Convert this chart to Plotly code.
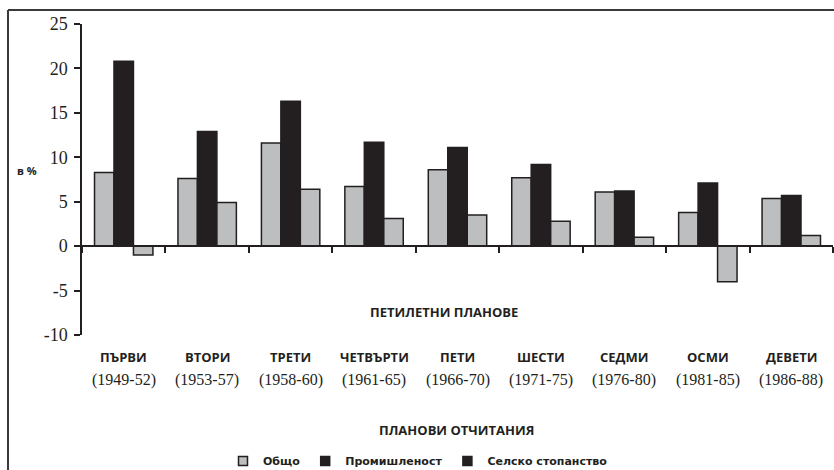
import plotly.graph_objects as go

# ---- data ----
plans = ["ПЪРВИ", "ВТОРИ", "ТРЕТИ", "ЧЕТВЪРТИ", "ПЕТИ", "ШЕСТИ", "СЕДМИ", "ОСМИ", "ДЕВЕТИ"]
periods = ["(1949-52)", "(1953-57)", "(1958-60)", "(1961-65)", "(1966-70)",
           "(1971-75)", "(1976-80)", "(1981-85)", "(1986-88)"]
total = [8.3, 7.6, 11.6, 6.7, 8.6, 7.7, 6.1, 3.8, 5.35]
industry = [20.8, 12.9, 16.3, 11.7, 11.1, 9.2, 6.2, 7.1, 5.7]
agriculture = [-1.0, 4.9, 6.4, 3.1, 3.5, 2.8, 1.0, -4.0, 1.2]
series_names = ["Общо", "Промишленост", "Селско стопанство"]
y_ticks = [-10, -5, 0, 5, 10, 15, 20, 25]
y_title = "в %"
x_title_top = "ПЕТИЛЕТНИ ПЛАНОВЕ"
x_title_bottom = "ПЛАНОВИ ОТЧИТАНИЯ"

GRAY = "#BCBEC0"
BLACK = "#231F20"
SANS_B = "Open Sans"
SERIF = "Liberation Serif"

W, H = 834, 470
L, R, T, B = 82, 1, 24, 135
PW, PH = W - L - R, H - T - B


def px_x(x):
    return (x - L) / PW


def px_y(y):
    return (H - B - y) / PH


fig = go.Figure()
colors = [GRAY, BLACK, GRAY]
for name, vals, col in zip(series_names, [total, industry, agriculture], colors):
    fig.add_trace(go.Bar(
        x=plans, y=vals, name=name, showlegend=False,
        marker=dict(color=col, line=dict(color=BLACK, width=1.5)),
    ))

# legend entries (icons as in the original legend)
legend_colors = [GRAY, BLACK, BLACK]
for name, col in zip(series_names, legend_colors):
    fig.add_trace(go.Scatter(
        x=[None], y=[None], mode="markers", name=name,
        marker=dict(symbol="square", size=9, color=col,
                    line=dict(color=BLACK, width=1.5)),
    ))

annotations = []
for p, per in zip(plans, periods):
    annotations.append(dict(x=p, xref="x", y=px_y(357), yref="paper",
                            text=p, showarrow=False,
                            font=dict(family=SANS_B, size=13, color=BLACK, weight="bold"),
                            xanchor="center", yanchor="middle"))
    annotations.append(dict(x=p, xref="x", y=px_y(380), yref="paper",
                            text=per, showarrow=False,
                            font=dict(family=SERIF, size=16, color=BLACK),
                            xanchor="center", yanchor="middle"))

annotations.append(dict(x=px_x(444), xref="paper", y=px_y(312), yref="paper",
                        text=x_title_top, showarrow=False,
                        font=dict(family=SANS_B, size=13, color=BLACK, weight="bold"),
                        xanchor="center", yanchor="middle"))
annotations.append(dict(x=px_x(456), xref="paper", y=px_y(430), yref="paper",
                        text=x_title_bottom, showarrow=False,
                        font=dict(family=SANS_B, size=13, color=BLACK, weight="bold"),
                        xanchor="center", yanchor="middle"))
annotations.append(dict(x=px_x(27), xref="paper", y=px_y(170), yref="paper",
                        text=y_title, showarrow=False,
                        font=dict(family=SANS_B, size=11, color=BLACK, weight="bold"),
                        xanchor="center", yanchor="middle"))

shapes = [
    dict(type="line", xref="paper", yref="paper",
         x0=px_x(8), x1=px_x(836), y0=px_y(10), y1=px_y(10),
         line=dict(color="#3a3a3a", width=2)),
    dict(type="line", xref="paper", yref="paper",
         x0=px_x(8), x1=px_x(8), y0=px_y(10), y1=px_y(472),
         line=dict(color="#3a3a3a", width=2)),
]

fig.update_layout(
    width=W, height=H,
    margin=dict(l=L, r=R, t=T, b=B, pad=0),
    paper_bgcolor="white", plot_bgcolor="white",
    font=dict(family=SERIF, color=BLACK),
    barmode="group", bargap=0.30, bargroupgap=0,
    annotations=annotations, shapes=shapes,
    legend=dict(orientation="h", xref="container", yref="container",
                x=418 / W, xanchor="center",
                y=1 - 461 / H, yanchor="middle",
                font=dict(family="DejaVu Sans", size=11, color=BLACK, weight="bold"),
                bgcolor="rgba(0,0,0,0)", itemwidth=30),
    xaxis=dict(type="category", range=[-0.5, len(plans) - 0.5],
               showgrid=False, zeroline=False, showline=True,
               linecolor=BLACK, linewidth=1.5,
               ticks="outside", tickson="boundaries", ticklen=6, tickwidth=1.5,
               tickcolor=BLACK, showticklabels=False,
               anchor="free", position=10 / 35),
    yaxis=dict(range=[-10, 25], showgrid=False, zeroline=False, showline=True,
               linecolor=BLACK, linewidth=1.5, automargin=False,
               ticks="outside", ticklen=6, tickwidth=1.5, tickcolor=BLACK,
               ticklabelstandoff=3,
               tickvals=y_ticks, ticktext=[str(v) for v in y_ticks],
               tickfont=dict(family=SERIF, size=18, color=BLACK)),
)

fig.write_html("out.html", post_script="document.body.style.margin='0';",
               config={"displayModeBar": False})
